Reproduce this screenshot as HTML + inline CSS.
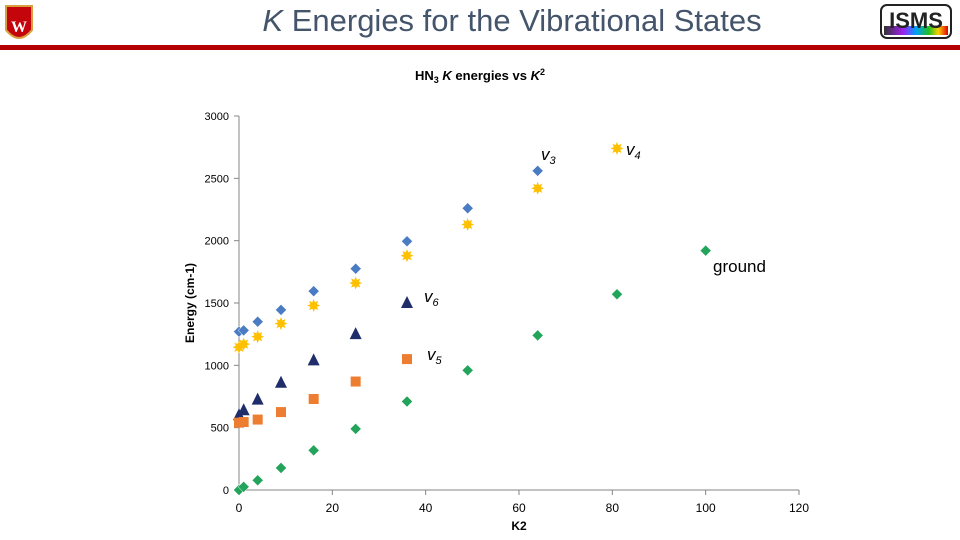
<!DOCTYPE html>
<html><head><meta charset="utf-8">
<style>
body{margin:0;background:#fff;}
#wrap{position:relative;width:960px;height:540px;overflow:hidden;font-family:"Liberation Sans",sans-serif;}
</style></head>
<body>
<div id="wrap">
<svg id="svg" width="960" height="540" xmlns="http://www.w3.org/2000/svg">
  <g>
    <path d="M6 6 L32 6 L32 30 Q19 46 6 30 Z" fill="#c5050c" stroke="#d8a040" stroke-width="2"/>
    <text x="19" y="32" text-anchor="middle" font-size="16" fill="#fff" font-family="Liberation Serif,serif" font-weight="bold">W</text>
  </g>
  <text x="512" y="31" text-anchor="middle" font-size="31" fill="#44546a"><tspan font-style="italic">K</tspan> Energies for the Vibrational States</text>
  <g>
    <rect x="881" y="5" width="70" height="33" rx="6" fill="#fff" stroke="#222" stroke-width="2"/>
    <rect x="884" y="26" width="64" height="9" fill="url(#rb)"/>
    <defs><linearGradient id="rb"><stop offset="0" stop-color="#333"/><stop offset="0.3" stop-color="#a020f0"/><stop offset="0.5" stop-color="#00a0ff"/><stop offset="0.7" stop-color="#20c020"/><stop offset="0.85" stop-color="#ffd000"/><stop offset="1" stop-color="#e00000"/></linearGradient></defs>
    <text x="916" y="28" text-anchor="middle" font-size="22" font-weight="bold" fill="#222">ISMS</text>
  </g>
  <rect x="0" y="45" width="960" height="5" fill="#b40000"/>
  <text x="480" y="80" text-anchor="middle" font-size="13" font-weight="bold" fill="#000">HN<tspan font-size="9" dy="3">3</tspan><tspan dy="-3"> </tspan><tspan font-style="italic">K</tspan> energies vs <tspan font-style="italic">K</tspan><tspan font-size="9" dy="-5">2</tspan></text>
  <g id="axes"></g>
  <g id="marks"></g>
</svg>
</div>
<script>
const xTicks = [0,20,40,60,80,100,120];
const yTicks = [0,500,1000,1500,2000,2500,3000];
const kGround = [0,1,4,9,16,25,36,49,64,81,100];
const eGround = [0,25,78,177,318,490,710,960,1240,1570,1920];
const kV3 = [0,1,4,9,16,25,36,49,64];
const eV3 = [1270,1280,1350,1445,1595,1775,1995,2260,2560];
const kV4 = [0,1,4,9,16,25,36,49,64,81];
const eV4 = [1145,1170,1230,1335,1480,1660,1880,2130,2420,2740];
const kV6 = [0,1,4,9,16,25,36];
const eV6 = [600,640,725,860,1040,1250,1500];
const kV5 = [0,1,4,9,16,25,36];
const eV5 = [540,545,565,625,730,870,1050];

const NS="http://www.w3.org/2000/svg";
const X0=239,X1=799,Y0=490,Y1=116;
const xs=v=>X0+(v-0)/120*(X1-X0);
const ys=v=>Y0-(v-0)/3000*(Y0-Y1);
function mk(tag,attrs,parent){const e=document.createElementNS(NS,tag);for(const k in attrs)e.setAttribute(k,attrs[k]);parent.appendChild(e);return e;}
const axes=document.getElementById('axes'), marks=document.getElementById('marks');

let l=mk('line',{x1:X0,y1:Y0,x2:X1,y2:Y0,stroke:'#868686','stroke-width':1},axes);


l=mk('line',{x1:X0,y1:Y0,x2:X0,y2:Y1,stroke:'#868686','stroke-width':1},axes);


xTicks.forEach(t=>{
  mk('line',{x1:xs(t),y1:Y0,x2:xs(t),y2:Y0+5,stroke:'#868686'},axes);
  const tx=mk('text',{x:xs(t),y:Y0+22,'text-anchor':'middle','font-size':12,fill:'#000'},axes);
  tx.textContent=t;
  
  
});
yTicks.forEach(t=>{
  mk('line',{x1:X0-5,y1:ys(t),x2:X0,y2:ys(t),stroke:'#868686'},axes);
  const tx=mk('text',{x:X0-10,y:ys(t)+4,'text-anchor':'end','font-size':11,fill:'#000'},axes);
  tx.textContent=t;
  
  
});
let t=mk('text',{x:519,y:530,'text-anchor':'middle','font-size':12,'font-weight':'bold'},axes);
t.textContent='K2';


t=mk('text',{x:0,y:0,'text-anchor':'middle','font-size':12,'font-weight':'bold',transform:'translate(194,303) rotate(-90)'},axes);
t.textContent='Energy (cm-1)';



function diamond(x,y,c,s){return mk('path',{d:`M${x} ${y-s} L${x+s} ${y} L${x} ${y+s} L${x-s} ${y} Z`,fill:c,stroke:'#fff','stroke-width':0.5},marks);}
function star(x,y){let d='';for(let i=0;i<16;i++){const r=i%2?3.5:6.5,a=i*Math.PI/8;d+=(i?'L':'M')+(x+r*Math.cos(a))+' '+(y+r*Math.sin(a));}return mk('path',{d:d+'Z',fill:'#ffc000'},marks);}
function tri(x,y){return mk('path',{d:`M${x} ${y-7} L${x+6} ${y+5} L${x-6} ${y+5} Z`,fill:'#1f2d6b'},marks);}
function sq(x,y){return mk('rect',{x:x-5,y:y-5,width:10,height:10,fill:'#ed7d31'},marks);}

kGround.forEach((k,i)=>{const e=diamond(xs(k),ys(eGround[i]),'#22a55a',5.5);

});
kV3.forEach((k,i)=>{const e=diamond(xs(k),ys(eV3[i]),'#4a7cc4',5.5);

});
kV4.forEach((k,i)=>{const e=star(xs(k),ys(eV4[i]));

});
kV6.forEach((k,i)=>{const e=tri(xs(k),ys(eV6[i]));

});
kV5.forEach((k,i)=>{const e=sq(xs(k),ys(eV5[i]));

});

function lbl(x,y,main,sub,name){const e=mk('text',{x:x,y:y,'font-size':17,'font-style':'italic',fill:'#000'},marks);
e.innerHTML=main+(sub?`<tspan font-size="11" dy="4">${sub}</tspan>`:'');

}
lbl(541,160,'v','3','v3-label');
lbl(626,155,'v','4','v4-label');
lbl(424,302,'v','6','v6-label');
lbl(427,360,'v','5','v5-label');
t=mk('text',{x:713,y:272,'font-size':17,fill:'#000'},marks);
t.textContent='ground';


</script>
</body></html>
